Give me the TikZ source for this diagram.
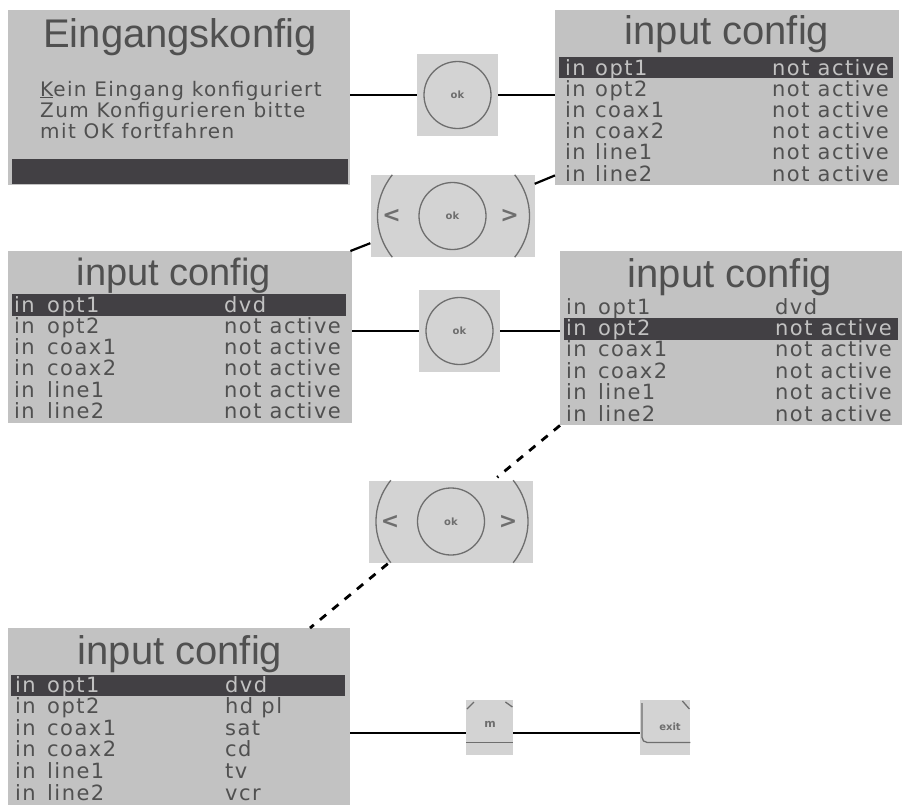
\documentclass[tikz,border=0pt]{standalone}
\usepackage{fontspec}
\usepackage{xcolor}
\setmainfont{DejaVu Sans}
\newfontfamily\titlefont{Liberation Sans}
\newfontfamily\lcdfont[LetterSpace = 7]{DejaVu Sans}
\definecolor{panelcolor}{HTML}{c2c2c2}
\definecolor{barcolor}{HTML}{424044}
\definecolor{lcdcolor}{HTML}{505050}
\definecolor{keycolor}{HTML}{d3d3d3}
\definecolor{keyline}{HTML}{6e6e6e}
\tikzset{
    panel/.style = {fill = panelcolor, rectangle, inner sep = 0pt, anchor = north west, minimum width = #1},
    selbar/.style = {fill = barcolor, rectangle, inner sep = 0pt, anchor = north west, minimum width = 334pt, minimum height = 21pt},
    title/.style = {text = lcdcolor, inner sep = 0pt, font = \titlefont\fontsize{40}{40}\selectfont},
    rowtext/.style = {text = lcdcolor, inner sep = 0pt, anchor = west, text height = 12pt, text depth = 4pt, font = \lcdfont\fontsize{21}{22}\selectfont},
    rowsel/.style = {rowtext, text = panelcolor},
    okkey/.style = {fill = keycolor, rectangle, inner sep = 0pt, minimum width = 81pt, minimum height = 82pt},
    navkey/.style = {fill = keycolor, rectangle, inner sep = 0pt, minimum width = 164pt, minimum height = 82pt},
    softkey/.style = {fill = keycolor, rectangle, inner sep = 0pt, anchor = north west, minimum width = #1, minimum height = 55pt},
    okring/.style = {draw = keyline, circle, line width = 1.3pt, inner sep = 0pt, minimum size = 67pt, text = keyline, font = \bfseries\fontsize{10}{10}\selectfont},
    keymark/.style = {draw = keyline, line width = 1.3pt},
    keytext/.style = {text = keyline, inner sep = 0pt, font = \bfseries\fontsize{#1}{11}\selectfont},
    arrowtext/.style = {text = keyline, inner sep = 0pt, font = \bfseries\fontsize{22}{22}\selectfont},
    link/.style = {line width = 2.2pt, black},
    dashlink/.style = {line width = 2.8pt, black, dash pattern = on 8pt off 8pt},
}

\begin{document}
\begin{tikzpicture}
        \useasboundingbox (0pt, 0pt) rectangle (906pt, -807pt);

        % Panels
        \node [panel = 342pt, minimum height = 175pt] (panela) at (8pt, -10pt) {};
        \node [panel = 344pt, minimum height = 175pt] (panelb) at (555pt, -10pt) {};
        \node [panel = 344pt, minimum height = 172pt] (panelc) at (8pt, -251pt) {};
        \node [panel = 342pt, minimum height = 174pt] (paneld) at (560pt, -251pt) {};
        \node [panel = 342pt, minimum height = 177pt] (panele) at (8pt, -628pt) {};

        % Selection bars
        \node [selbar, minimum width = 336pt, minimum height = 25pt] (bara) at (12pt, -159pt) {};
        \node [selbar] (barb) at (559pt, -57pt) {};
        \node [selbar, minimum height = 22pt] (barc) at (12pt, -294pt) {};
        \node [selbar, minimum height = 22pt] (bard) at (564pt, -318pt) {};
        \node [selbar] (bare) at (11pt, -675pt) {};

        % Titles
        \node [title] (titlea) at (180pt, -37pt) {Eingangskonfig};
        \node [title] (titleb) at (727pt, -34pt) {input config};
        \node [title, font = \titlefont\fontsize{38}{38}\selectfont] (titlec) at (174pt, -276pt) {input config};
        \node [title] (titled) at (730pt, -277pt) {input config};
        \node [title] (titlee) at (180pt, -654pt) {input config};

        % Message
        \node [rowtext, font = \lcdfont\fontsize{20}{21}\selectfont] (msga) at (40pt, -92pt) {\underline{K}ein Eingang konfiguriert};
        \node [rowtext, font = \lcdfont\fontsize{20}{21}\selectfont] (msgb) at (40pt, -113pt) {Zum Konfigurieren bitte};
        \node [rowtext, font = \lcdfont\fontsize{20}{21}\selectfont] (msgc) at (40pt, -134pt) {mit OK fortfahren};

        % Rows
        \foreach \rowname/\rowvalue/\rowstyle [count = \r] in {opt1/not active/rowsel, opt2/not active/rowtext, coax1/not active/rowtext, coax2/not active/rowtext, line1/not active/rowtext, line2/not active/rowtext} {
            \node [\rowstyle] (rowb\r) at (565pt, -71pt - 21.2pt * \r + 21.2pt) {in};
            \node [\rowstyle] (nameb\r) at (595pt, -71pt - 21.2pt * \r + 21.2pt) {\rowname};
            \node [\rowstyle] (valb\r) at (772pt, -71pt - 21.2pt * \r + 21.2pt) {\rowvalue};
        }
        \foreach \rowname/\rowvalue/\rowstyle [count = \r] in {opt1/dvd/rowsel, opt2/not active/rowtext, coax1/not active/rowtext, coax2/not active/rowtext, line1/not active/rowtext, line2/not active/rowtext} {
            \node [\rowstyle] (rowc\r) at (14pt, -308pt - 21.3pt * \r + 21.3pt) {in};
            \node [\rowstyle] (namec\r) at (47pt, -308pt - 21.3pt * \r + 21.3pt) {\rowname};
            \node [\rowstyle] (valc\r) at (224pt, -308pt - 21.3pt * \r + 21.3pt) {\rowvalue};
        }
        \foreach \rowname/\rowvalue/\rowstyle [count = \r] in {opt1/dvd/rowtext, opt2/not active/rowsel, coax1/not active/rowtext, coax2/not active/rowtext, line1/not active/rowtext, line2/not active/rowtext} {
            \node [\rowstyle] (rowd\r) at (566pt, -310pt - 21.4pt * \r + 21.4pt) {in};
            \node [\rowstyle] (named\r) at (598pt, -310pt - 21.4pt * \r + 21.4pt) {\rowname};
            \node [\rowstyle] (vald\r) at (775pt, -310pt - 21.4pt * \r + 21.4pt) {\rowvalue};
        }
        \foreach \rowname/\rowvalue/\rowstyle [count = \r] in {opt1/dvd/rowsel, opt2/hd pl/rowtext, coax1/sat/rowtext, coax2/cd/rowtext, line1/tv/rowtext, line2/vcr/rowtext} {
            \node [\rowstyle] (rowe\r) at (15pt, -688pt - 21.6pt * \r + 21.6pt) {in};
            \node [\rowstyle] (namee\r) at (47pt, -688pt - 21.6pt * \r + 21.6pt) {\rowname};
            \node [\rowstyle] (vale\r) at (225pt, -688pt - 21.6pt * \r + 21.6pt) {\rowvalue};
        }

        % Keys
        \node [okkey] (oka) at (457.5pt, -95pt) {};
        \node [okring] (ringa) at (oka) {ok};
        \node [okkey] (okb) at (459.5pt, -331pt) {};
        \node [okring] (ringb) at (okb) {ok};
        \node [navkey] (nava) at (452.5pt, -216pt) {};
        \node [okring] (ringc) at (nava) {ok};
        \node [arrowtext] (lefta) at ([xshift = -61pt]nava.center) {<};
        \node [arrowtext] (righta) at ([xshift = 57pt]nava.center) {>};
        \draw [keymark] ([xshift = 22pt]nava.north west) to [bend right = 38] ([xshift = 22pt]nava.south west);
        \draw [keymark] ([xshift = -20pt]nava.north east) to [bend left = 38] ([xshift = -20pt]nava.south east);
        \node [navkey] (navb) at (451pt, -521.5pt) {};
        \node [okring] (ringd) at (navb) {ok};
        \node [arrowtext] (leftb) at ([xshift = -61pt]navb.center) {<};
        \node [arrowtext] (rightb) at ([xshift = 57pt]navb.center) {>};
        \draw [keymark] ([xshift = 22pt]navb.north west) to [bend right = 38] ([xshift = 22pt]navb.south west);
        \draw [keymark] ([xshift = -20pt]navb.north east) to [bend left = 38] ([xshift = -20pt]navb.south east);

        % Soft keys
        \node [softkey = 47pt] (keym) at (466pt, -700pt) {};
        \node [keytext = 11] (labelm) at (490pt, -724pt) {m};
        \draw [keymark] ([yshift = 13pt]keym.south west) -- ([yshift = 13pt]keym.south east);
        \draw [keymark] ([xshift = 1pt, yshift = -9pt]keym.north west) -- ([xshift = 8pt, yshift = -2pt]keym.north west);
        \draw [keymark] ([xshift = -1pt, yshift = -7pt]keym.north east) -- ([xshift = -8pt, yshift = -2pt]keym.north east);
        \node [softkey = 50pt] (keyx) at (640pt, -700pt) {};
        \node [keytext = 10] (labelx) at (670pt, -727pt) {exit};
        \draw [keymark, rounded corners = 5pt] ([xshift = 2pt, yshift = -3pt]keyx.north west) -- ([xshift = 2pt, yshift = 13pt]keyx.south west) -- ([yshift = 13pt]keyx.south east);
        \draw [keymark] ([xshift = -1pt, yshift = -9pt]keyx.north east) -- ([xshift = -8pt, yshift = -1pt]keyx.north east);

        % Draw the links
        \coordinate (linem) at (490pt, -733pt);
        \draw [link] (panela.east |- oka) -- (oka.west);
        \draw [link] (oka.east) -- (oka -| panelb.west);
        \draw [link] ([yshift = -9pt]nava.north east) -- ([yshift = 10pt]panelb.south west);
        \draw [link] ([yshift = 14pt]nava.south west) -- ([xshift = -2pt]panelc.north east);
        \draw [link] (panelc.east |- okb) -- (okb.west);
        \draw [link] (okb.east) -- (okb -| paneld.west);
        \draw [dashlink] (paneld.south west) -- ([xshift = -36pt, yshift = 3pt]navb.north east);
        \draw [dashlink] ([xshift = 19pt, yshift = -1pt]navb.south west) -- ([xshift = 302pt]panele.north west);
        \draw [link] (panele.east |- linem) -- (keym.west |- linem);
        \draw [link] (keym.east |- linem) -- (keyx.west |- linem);

    \end{tikzpicture}
\end{document}
